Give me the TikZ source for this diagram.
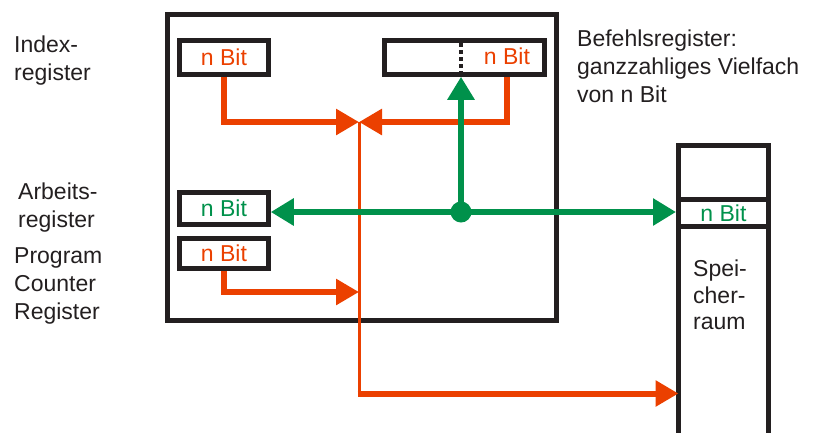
\documentclass[tikz,border=0pt]{standalone}
\usepackage{fontspec}
\setmainfont{Liberation Sans}
\usetikzlibrary{arrows.meta,positioning,calc}
\definecolor{regred}{RGB}{235,64,0}
\definecolor{reggreen}{RGB}{0,145,75}
\definecolor{regblack}{RGB}{35,31,32}
\tikzset{
  txt/.style={font=\fontsize{23}{28}\selectfont,text=regblack,align=left,inner sep=0pt},
  reg/.style={draw=regblack,line width=4.5pt,rectangle,minimum width=89pt,inner sep=0pt,
              font=\fontsize{23}{28}\selectfont},
  oarr/.style={draw=regred,line width=6pt,-{Triangle[length=23pt,width=25pt]}},
  othin/.style={draw=regred,line width=3pt},
  garr/.style={draw=reggreen,line width=6pt,-{Triangle[length=23pt,width=26pt]}},
  dot/.style={circle,fill=reggreen,minimum size=21pt,inner sep=0pt}
}

\begin{document}
\begin{tikzpicture}[x=1pt,y=-1pt]
  \useasboundingbox (0,0) rectangle (819,432);

  % Prozessor
  \node[draw=regblack,line width=5pt,minimum width=389pt,minimum height=305.5pt] (cpu) at (362,167.25) {};

  % Register
  \node[reg,minimum height=34pt,text=regred] (idx) at (224,57.5) {n Bit};
  \node[reg,minimum width=160pt,minimum height=34pt] (cmd) at (464.5,57.5) {};
  \node[text=regred,font=\fontsize{23}{28}\selectfont] (cmdtxt) at (507,56) {n Bit};
  \draw[regblack,line width=4pt,dash pattern=on 4pt off 3pt] (461,43) -- (461,72);
  \node[reg,minimum height=32pt,text=reggreen] (acc) at (224,208.5) {n Bit};
  \node[reg,minimum height=30pt,text=regred] (pc) at (224,253.5) {n Bit};

  % Speicher
  \node[draw=regblack,line width=5pt,minimum width=90pt,minimum height=320pt,anchor=north] (mem) at (723.5,142.5) {};
  \node[draw=regblack,line width=5pt,minimum width=90pt,minimum height=26.5pt,inner sep=0pt,
        text=reggreen,font=\fontsize{23}{28}\selectfont] (cell) at (723.5,213) {n Bit};
  \node[txt,anchor=north west,font=\fontsize{23}{26.5}\selectfont] (memtxt) at (693,260) {Spei-\\cher-\\raum};

  % Beschriftungen
  \node[txt,anchor=north west] (lidx) at (14,36) {Index-\\register};
  \node[txt,anchor=north west] (lacc) at (18,183) {Arbeits-\\register};
  \node[txt,anchor=north west] (lpc) at (14,247) {Program\\Counter\\Register};
  \node[txt,anchor=north west] (lcmd) at (577,30) {Befehlsregister:\\ganzzahliges Vielfach\\von n Bit};

  % Adresspfad
  \coordinate (mrg) at (359,122);
  \coordinate (pcin) at (359,292);
  \coordinate (memin) at (678.5,393.5);
  \draw[othin] (mrg) -- (mrg |- memin);
  \draw[oarr] (idx.south) |- (mrg);
  \draw[oarr] ([xshift=42.5pt]cmd.south) |- (mrg);
  \draw[oarr] (pc.south) |- (pcin);
  \draw[oarr] ([xshift=-1.5pt]mrg |- memin) -- (memin);

  % Datenpfad
  \node[dot] (junc) at (461,212) {};
  \draw[garr] (junc.center) -- (junc -| acc.east);
  \draw[garr] (junc.center) -- (junc -| cell.west);
  \draw[garr] (junc.center) -- (junc |- cmd.south);
\end{tikzpicture}
\end{document}
